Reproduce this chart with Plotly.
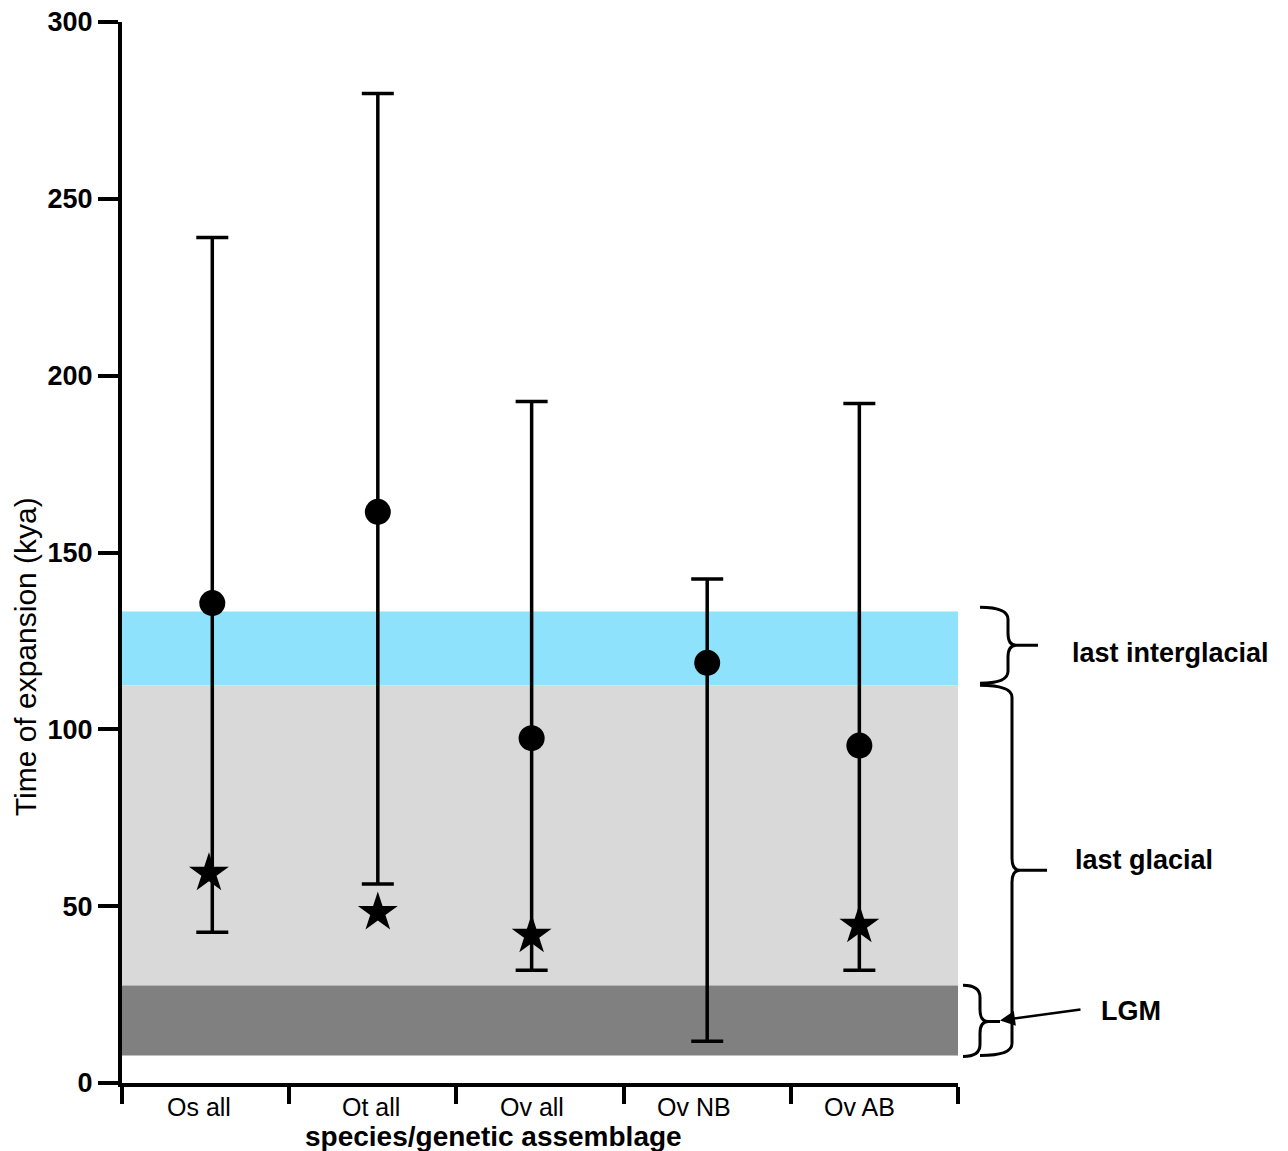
import plotly.graph_objects as go

# ---- data ----
categories = ["Os all", "Ot all", "Ov all", "Ov NB", "Ov AB"]
x_pos = [0.54, 1.53, 2.45, 3.50, 4.41]          # position of each group along x (category units)
star_x = [0.52, 1.53, 2.45, None, 4.41]
label_pos = [0.46, 1.49, 2.45, 3.42, 4.41]      # position of each category label
mean_kya = [135.7, 161.5, 97.5, 118.8, 95.4]
upper_kya = [239.1, 279.8, 192.7, 142.5, 192.1]
lower_kya = [42.6, 56.3, 31.9, 11.8, 31.9]
star_kya = [59.3, 48.2, 41.8, None, 44.6]

band_low = [112.5, 27.6, 7.8]
band_high = [133.3, 112.5, 27.6]
band_colors = ["#8EE2FB", "#D9D9D9", "#808080"]
band_names = ["last interglacial", "last glacial", "LGM"]

y_ticks = [0, 50, 100, 150, 200, 250, 300]

FONT = "Liberation Sans, Arial, sans-serif"
W, H = 1288, 1151
L, R, T, B = 122, 958, 22.0, 1082.6


def px2paper(px, py):
    return (px - L) / (R - L), (B - py) / (B - T)


def brace_path(xl, xs, xt, yt, ym, yb, r=12):
    def p(x, y):
        a, b = px2paper(x, y)
        return f"{a:.5f},{b:.5f}"
    d = (f"M {p(xl, yt)} Q {p(xs, yt)} {p(xs, yt + r)} L {p(xs, ym - r)} "
         f"Q {p(xs, ym)} {p(xs + 8, ym)} L {p(xt, ym)} "
         f"M {p(xs + 8, ym)} Q {p(xs, ym)} {p(xs, ym + r)} L {p(xs, yb - r)} "
         f"Q {p(xs, yb)} {p(xl, yb)}")
    return d


fig = go.Figure()

fig.add_trace(go.Scatter(
    x=x_pos, y=mean_kya, mode="markers",
    marker=dict(symbol="circle", size=26, color="black"),
    error_y=dict(type="data", symmetric=False,
                 array=[u - m for u, m in zip(upper_kya, mean_kya)],
                 arrayminus=[m - l for m, l in zip(mean_kya, lower_kya)],
                 color="black", thickness=3.5, width=16),
    showlegend=False, cliponaxis=False))

sx = [x for x, s in zip(star_x, star_kya) if s is not None]
sy = [s for s in star_kya if s is not None]
fig.add_trace(go.Scatter(
    x=sx, y=sy, mode="markers",
    marker=dict(symbol="star", size=30, color="black"),
    showlegend=False, cliponaxis=False))

shapes = []
for lo, hi, c in zip(band_low, band_high, band_colors):
    shapes.append(dict(type="rect", xref="x", yref="y", x0=0, x1=5, y0=lo, y1=hi,
                       fillcolor=c, line=dict(width=0), layer="below"))

brace_line = dict(color="black", width=3)
shapes.append(dict(type="path", xref="paper", yref="paper",
                   path=brace_path(980, 1008, 1038, 607, 645, 683), line=brace_line))
shapes.append(dict(type="path", xref="paper", yref="paper",
                   path=brace_path(980, 1012, 1047, 685, 870, 1055), line=brace_line))
shapes.append(dict(type="path", xref="paper", yref="paper",
                   path=brace_path(963, 980, 1000, 985, 1021, 1056), line=brace_line))

annotations = []
for lab, lp in zip(categories, label_pos):
    annotations.append(dict(x=lp, xref="x", y=px2paper(0, 1107)[1], yref="paper",
                            text=lab, showarrow=False, xanchor="center", yanchor="middle",
                            font=dict(family=FONT, size=25, color="black")))

ax_, ay_ = px2paper(25, 657)
annotations.append(dict(x=ax_, y=ay_, xref="paper", yref="paper", text="Time of expansion (kya)",
                        textangle=-90, showarrow=False, xanchor="center", yanchor="middle",
                        font=dict(family=FONT, size=30, color="black")))
tx, ty = px2paper(493, 1136)
annotations.append(dict(x=tx, y=ty, xref="paper", yref="paper", text="species/genetic assemblage",
                        showarrow=False, xanchor="center", yanchor="middle",
                        font=dict(family=FONT, size=28, color="black", weight="bold")))

for name, (px, py) in zip(band_names, [(1070, 653), (1073, 860), (1099, 1011)]):
    a, b = px2paper(px, py)
    annotations.append(dict(x=a, y=b, xref="paper", yref="paper", text=name,
                            showarrow=False, xanchor="left", yanchor="middle",
                            font=dict(family=FONT, size=27, color="black", weight="bold")))

hx, hy = px2paper(1000, 1020)
annotations.append(dict(x=hx, y=hy, xref="paper", yref="paper", text="",
                        showarrow=True, arrowhead=2, arrowsize=1.2, arrowwidth=2.5,
                        arrowcolor="black", ax=82, ay=-11, standoff=0))

fig.update_layout(
    width=W, height=H,
    margin=dict(l=L, r=W - R, t=T, b=H - B, pad=0, autoexpand=False),
    plot_bgcolor="white", paper_bgcolor="white",
    font=dict(family=FONT, color="black"),
    shapes=shapes, annotations=annotations,
    xaxis=dict(range=[0, 5], showgrid=False, zeroline=False, showline=True, automargin=False,
               linecolor="black", linewidth=4, ticks="outside", ticklen=17,
               tickwidth=4, tickcolor="black", tickvals=[0, 1, 2, 3, 4, 5],
               ticktext=[""] * 6),
    yaxis=dict(range=[0, 300], showgrid=False, zeroline=False, showline=True, automargin=False,
               linecolor="black", linewidth=4, ticks="outside", ticklen=20,
               tickwidth=4, tickcolor="black", tickvals=y_ticks,
               tickfont=dict(family=FONT, size=27, color="black", weight="bold")),
)

fig.write_html("out.html")
